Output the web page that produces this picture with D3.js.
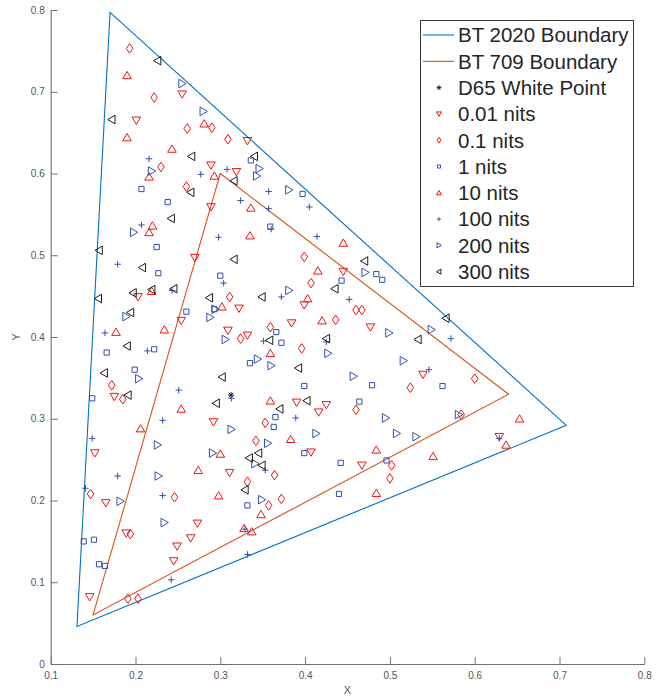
<!DOCTYPE html>
<html>
<head>
<meta charset="utf-8">
<script src="https://cdn.jsdelivr.net/npm/d3@7"></script>
<style>
  body { margin: 0; background: #fff; }
  text { font-family: "Liberation Sans", Helvetica, Arial, sans-serif; }
</style>
</head>
<body>
<div id="chart"></div>
<script>
'use strict';

// tick values
const xTicks = [0.1, 0.2, 0.3, 0.4, 0.5, 0.6, 0.7, 0.8];
const yTicks = [0, 0.1, 0.2, 0.3, 0.4, 0.5, 0.6, 0.7, 0.8];

// gamut triangles (x, y chromaticity)
const bt2020 = [[0.708, 0.292], [0.170, 0.797], [0.131, 0.046]];
const bt709 = [[0.64, 0.33], [0.30, 0.60], [0.15, 0.06]];
const d65 = [[0.3127, 0.3290]];

// measured points, one list per luminance level
const nits001 = [[0.255,0.697],[0.201,0.665],[0.289,0.610],[0.289,0.559],[0.332,0.640],[0.319,0.602],
  [0.270,0.497],[0.203,0.449],[0.445,0.480],[0.254,0.420],[0.322,0.435],[0.309,0.408],[0.332,0.402],
  [0.175,0.327],[0.292,0.296],[0.152,0.258],[0.311,0.234],[0.399,0.439],[0.384,0.417],[0.477,0.412],
  [0.539,0.354],[0.390,0.320],[0.425,0.317],[0.416,0.308],[0.407,0.259],[0.467,0.243],[0.629,0.278],
  [0.146,0.082],[0.165,0.197],[0.189,0.160],[0.249,0.144],[0.245,0.126],[0.265,0.154],[0.273,0.172]];
const nits01 = [[0.193,0.753],[0.222,0.693],[0.261,0.655],[0.290,0.656],[0.309,0.642],[0.230,0.608],
  [0.260,0.584],[0.311,0.449],[0.399,0.498],[0.407,0.466],[0.460,0.433],[0.467,0.433],[0.436,0.421],
  [0.359,0.412],[0.396,0.386],[0.524,0.338],[0.460,0.311],[0.353,0.295],[0.342,0.273],[0.502,0.243],
  [0.364,0.231],[0.500,0.227],[0.600,0.349],[0.584,0.305],[0.372,0.202],[0.357,0.194],[0.324,0.398],
  [0.172,0.341],[0.185,0.324],[0.332,0.223],[0.147,0.208],[0.246,0.204],[0.194,0.159],[0.191,0.080],
  [0.203,0.080]];
const nits1 = [[0.207,0.581],[0.238,0.565],[0.336,0.616],[0.397,0.575],[0.359,0.535],[0.225,0.510],
  [0.227,0.478],[0.300,0.475],[0.484,0.477],[0.491,0.470],[0.443,0.469],[0.293,0.434],[0.260,0.431],
  [0.222,0.385],[0.166,0.381],[0.335,0.368],[0.199,0.360],[0.149,0.325],[0.366,0.406],[0.372,0.393],
  [0.399,0.340],[0.479,0.341],[0.562,0.340],[0.464,0.321],[0.365,0.302],[0.363,0.290],[0.399,0.258],
  [0.442,0.246],[0.496,0.249],[0.332,0.194],[0.440,0.208],[0.139,0.150],[0.151,0.152],[0.157,0.122],
  [0.164,0.120]];
const nits10 = [[0.190,0.720],[0.190,0.644],[0.281,0.661],[0.243,0.630],[0.216,0.596],[0.220,0.536],
  [0.216,0.528],[0.293,0.597],[0.336,0.558],[0.335,0.524],[0.445,0.515],[0.415,0.481],[0.403,0.447],
  [0.219,0.456],[0.302,0.437],[0.234,0.409],[0.177,0.406],[0.254,0.312],[0.206,0.288],[0.300,0.257],
  [0.274,0.237],[0.420,0.420],[0.359,0.380],[0.359,0.322],[0.383,0.275],[0.484,0.262],[0.551,0.254],
  [0.653,0.300],[0.637,0.268],[0.348,0.183],[0.484,0.209],[0.328,0.166],[0.337,0.162],[0.298,0.206]];
const nits100 = [[0.216,0.618],[0.277,0.599],[0.308,0.605],[0.324,0.567],[0.207,0.537],[0.298,0.522],
  [0.179,0.489],[0.304,0.466],[0.243,0.457],[0.357,0.578],[0.357,0.557],[0.405,0.559],[0.360,0.532],
  [0.414,0.523],[0.372,0.449],[0.452,0.446],[0.164,0.405],[0.214,0.383],[0.251,0.335],[0.313,0.325],
  [0.232,0.298],[0.149,0.276],[0.179,0.230],[0.141,0.215],[0.351,0.395],[0.425,0.394],[0.546,0.360],
  [0.389,0.301],[0.353,0.237],[0.572,0.398],[0.629,0.276],[0.329,0.165],[0.332,0.134],[0.232,0.206],
  [0.242,0.103]];
const nits200 = [[0.255,0.710],[0.280,0.676],[0.219,0.603],[0.346,0.606],[0.343,0.597],[0.198,0.528],
  [0.381,0.580],[0.471,0.479],[0.381,0.457],[0.294,0.434],[0.189,0.425],[0.288,0.424],[0.306,0.397],
  [0.204,0.349],[0.313,0.287],[0.226,0.268],[0.291,0.258],[0.227,0.230],[0.499,0.405],[0.549,0.409],
  [0.427,0.380],[0.344,0.373],[0.516,0.371],[0.360,0.365],[0.457,0.352],[0.495,0.301],[0.413,0.282],
  [0.508,0.282],[0.531,0.278],[0.356,0.270],[0.341,0.245],[0.581,0.305],[0.349,0.201],[0.182,0.199],
  [0.234,0.173]];
const nits300 = [[0.226,0.738],[0.172,0.666],[0.266,0.621],[0.340,0.621],[0.316,0.591],[0.265,0.577],
  [0.242,0.545],[0.157,0.506],[0.316,0.495],[0.208,0.485],[0.197,0.454],[0.219,0.458],[0.245,0.459],
  [0.156,0.447],[0.287,0.448],[0.349,0.449],[0.470,0.493],[0.435,0.459],[0.194,0.430],[0.190,0.389],
  [0.163,0.356],[0.302,0.351],[0.191,0.329],[0.295,0.319],[0.334,0.252],[0.425,0.398],[0.533,0.397],
  [0.566,0.423],[0.358,0.396],[0.392,0.362],[0.402,0.322],[0.370,0.312],[0.345,0.258],[0.349,0.243],
  [0.329,0.213]];

const seriesNames = ["0.01 nits", "0.1 nits", "1 nits", "10 nits", "100 nits", "200 nits", "300 nits"];
const seriesData = [nits001, nits01, nits1, nits10, nits100, nits200, nits300];
const seriesMarkers = ["down", "diamond", "square", "up", "plus", "right", "left"];

const red = "#f01414", blue = "#3150ae", black = "#1c1c1c";
const seriesColors = [red, red, blue, red, blue, blue, black];

// marker outlines centred on 0,0 ; k scales the marker
function markerPath(type, k) {
  switch (type) {
    case "down": return `M${-4.3*k},${-3.3*k}L${4.3*k},${-3.3*k}L0,${4*k}Z`;
    case "up": return `M${-4.3*k},${3.3*k}L${4.3*k},${3.3*k}L0,${-4*k}Z`;
    case "right": return `M${-3.3*k},${-4.3*k}L${4*k},0L${-3.3*k},${4.3*k}Z`;
    case "left": return `M${3.3*k},${-4.3*k}L${-4*k},0L${3.3*k},${4.3*k}Z`;
    case "diamond": return `M0,${-4.8*k}L${3.3*k},0L0,${4.8*k}L${-3.3*k},0Z`;
    case "square": return `M${-2.6*k},${-2.6*k}H${2.6*k}V${2.6*k}H${-2.6*k}Z`;
    case "plus": return `M${-3.2*k},0H${3.2*k}M0,${-3.2*k}V${3.2*k}`;
    case "star": {
      const r = 3*k, c = r*0.71;
      return `M${-r},0H${r}M0,${-r}V${r}M${-c},${-c}L${c},${c}M${-c},${c}L${c},${-c}`;
    }
  }
}

let margin = {top: 10, right: 19.7, bottom: 32, left: 50.7},
  width = 664 - margin.left - margin.right,
  height = 696 - margin.top - margin.bottom;

let svg = d3.select("#chart")
  .append("svg")
    .attr("width", 664)
    .attr("height", 696)
  .append("g")
    .attr("transform", "translate(" + margin.left + "," + margin.top + ")");

let x = d3.scaleLinear().domain([0.1, 0.8]).range([0, width]);
let y = d3.scaleLinear().domain([0, 0.8]).range([height, 0]);

const axisColor = "#707070";

// axes, ticks pointing inward like matlab
let xAxis = svg.append("g")
  .attr("transform", "translate(0," + height + ")")
  .call(d3.axisBottom(x).tickValues(xTicks).tickFormat(d => String(d))
    .tickSizeInner(-7).tickSizeOuter(0).tickPadding(8));
let yAxis = svg.append("g")
  .call(d3.axisLeft(y).tickValues(yTicks).tickFormat(d => String(d))
    .tickSizeInner(-7).tickSizeOuter(0).tickPadding(6));

[xAxis, yAxis].forEach(function(a) {
  a.select(".domain").attr("stroke", axisColor).attr("stroke-width", 1.1);
  a.selectAll(".tick line").attr("stroke", axisColor);
  a.selectAll(".tick text").attr("fill", "#555").style("font-size", "10px");
});

svg.append("text")
  .attr("x", x(0.45))
  .attr("y", height + 30)
  .attr("text-anchor", "middle")
  .style("font-size", "11px")
  .attr("fill", "#555")
  .text("X");

svg.append("text")
  .attr("transform", "translate(" + (-31) + "," + y(0.4) + ") rotate(-90)")
  .attr("text-anchor", "middle")
  .style("font-size", "11px")
  .attr("fill", "#555")
  .text("Y");

// boundaries
let tri = d3.line().x(d => x(d[0])).y(d => y(d[1])).curve(d3.curveLinearClosed);

svg.append("path")
  .datum(bt2020)
  .attr("d", tri)
  .attr("fill", "none")
  .attr("stroke", "#0072BD")
  .attr("stroke-width", 1.1);

svg.append("path")
  .datum(bt709)
  .attr("d", tri)
  .attr("fill", "none")
  .attr("stroke", "#D95319")
  .attr("stroke-width", 1.1);

// white point
svg.selectAll(".d65")
  .data(d65)
  .enter()
  .append("path")
    .attr("class", "d65")
    .attr("transform", d => "translate(" + x(d[0]) + "," + y(d[1]) + ")")
    .attr("d", markerPath("star", 1))
    .attr("fill", "none")
    .attr("stroke", black)
    .attr("stroke-width", 1);

// measurement series
seriesData.forEach(function(pts, i) {
  svg.append("g")
    .selectAll("path")
    .data(pts)
    .enter()
    .append("path")
      .attr("transform", d => "translate(" + x(d[0]) + "," + y(d[1]) + ")")
      .attr("d", markerPath(seriesMarkers[i], 1))
      .attr("fill", "none")
      .attr("stroke", seriesColors[i])
      .attr("stroke-width", 1);
});

// legend
const legendItems = [
  {label: "BT 2020 Boundary", line: "#0072BD"},
  {label: "BT 709 Boundary", line: "#D95319"},
  {label: "D65 White Point", marker: "star", color: black}
].concat(seriesNames.map((n, i) => ({label: n, marker: seriesMarkers[i], color: seriesColors[i]})));

let legend = svg.append("g")
  .attr("transform", "translate(" + (420 - margin.left) + "," + (20 - margin.top) + ")");

legend.append("rect")
  .attr("x", 0.5)
  .attr("y", 0.5)
  .attr("width", 213)
  .attr("height", 266)
  .attr("fill", "#fff")
  .attr("stroke", "#3a3a3a")
  .attr("stroke-width", 1);

let rowY = d3.scaleLinear().domain([0, 1]).range([15, 41.3]);

legendItems.forEach(function(item, i) {
  let g = legend.append("g").attr("transform", "translate(0," + rowY(i) + ")");
  if (item.line) {
    g.append("line")
      .attr("x1", 3).attr("x2", 34)
      .attr("stroke", item.line)
      .attr("stroke-width", 1.1);
  } else {
    g.append("path")
      .attr("transform", "translate(19,0)")
      .attr("d", markerPath(item.marker, item.marker === "star" ? 0.75 : 0.6))
      .attr("fill", "none")
      .attr("stroke", item.color)
      .attr("stroke-width", 1);
  }
  g.append("text")
    .attr("x", 38)
    .attr("y", 0)
    .attr("dy", "0.36em")
    .style("font-size", "20.5px")
    .attr("fill", "#262626")
    .text(item.label);
});
</script>
</body>
</html>
